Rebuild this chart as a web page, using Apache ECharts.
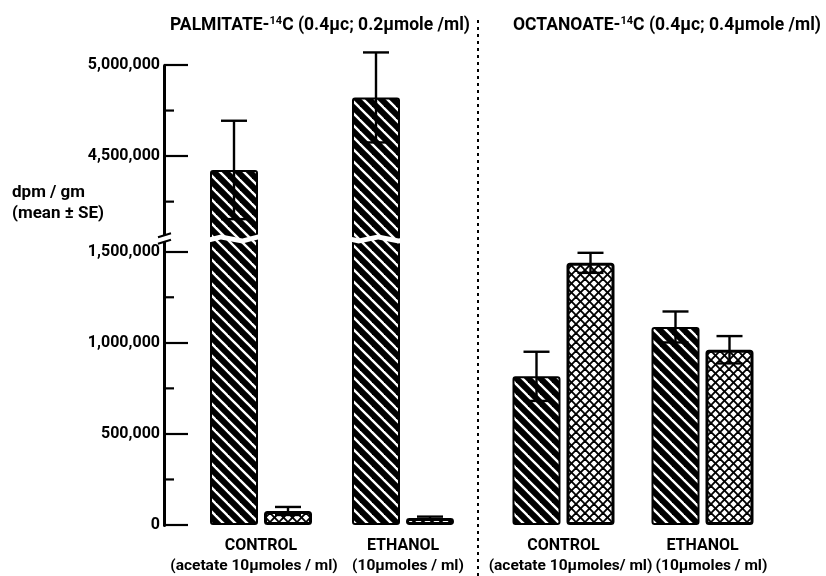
<!DOCTYPE html>
<html>
<head>
<meta charset="utf-8">
<script src="https://cdn.jsdelivr.net/npm/echarts@6.0.0/dist/echarts.min.js"></script>
<style>html,body{margin:0;padding:0;background:#fff}#c{width:826px;height:576px}</style>
</head>
<body>
<div id="c"></div>
<script>
// ---- data ----
var categories = ['CONTROL', 'ETHANOL'];
var subLabelsLeft = ['(acetate 10\u03bcmoles / ml)', '(10\u03bcmoles / ml)'];
var subLabelsRight = ['(acetate 10\u03bcmoles/ ml)', '(10\u03bcmoles / ml)'];
var palmHatched = [4424000, 4822000];
var palmHatchedSE = [270000, 247000];
var palmCross = [77000, 38000];
var palmCrossSE = [22000, 8000];
var octHatched = [816000, 1087000];
var octHatchedSE = [135000, 85000];
var octCross = [1439000, 962000];
var octCrossSE = [55000, 75000];
var yTicks = [0, 500000, 1000000, 1500000, 4500000, 5000000];
var yMinorTicks = [250000, 750000, 1250000, 4250000, 4750000];
var yMin = 0, yMax = 5000000, yInterval = 500000;
var breakStart = 1560000, breakEnd = 4060000;

// ---- patterns ----
function hatchPattern() {
  var c = document.createElement('canvas'); c.width = 12; c.height = 12;
  var g = c.getContext('2d');
  g.fillStyle = '#000'; g.fillRect(0, 0, 12, 12);
  g.strokeStyle = '#fff'; g.lineWidth = 2.4;
  [-12, 0, 12].forEach(function (o) {
    g.beginPath(); g.moveTo(o - 2, -2); g.lineTo(o + 14, 14); g.stroke();
  });
  return { image: c, repeat: 'repeat' };
}
function crossPattern() {
  var c = document.createElement('canvas'); c.width = 9; c.height = 9;
  var g = c.getContext('2d');
  g.fillStyle = '#fff'; g.fillRect(0, 0, 9, 9);
  g.strokeStyle = '#000'; g.lineWidth = 1.9;
  [-9, 0, 9].forEach(function (o) {
    g.beginPath(); g.moveTo(o - 2, -2); g.lineTo(o + 11, 11); g.stroke();
    g.beginPath(); g.moveTo(o + 11, -2); g.lineTo(o - 2, 11); g.stroke();
  });
  return { image: c, repeat: 'repeat' };
}
var HATCH = hatchPattern(), CROSS = crossPattern();

var FONT = "Roboto,'Liberation Sans',sans-serif";
var BAR_W = 48, BAR_GAP_PX = 6;

function fmt(v) { return String(v).replace(/\B(?=(\d{3})+(?!\d))/g, ','); }

function errData(vals, ses, side) {
  return vals.map(function (v, i) { return [i, v, ses[i], side]; });
}
function renderErr(params, api) {
  var cat = api.value(0), v = api.value(1), se = api.value(2), side = api.value(3);
  var dx = side * (BAR_W + BAR_GAP_PX) / 2;
  var top = api.coord([cat, v + se]);
  var bot = api.coord([cat, v - se]);
  var x = top[0] + dx, cap = 13;
  var st = { stroke: '#000', lineWidth: 2.4 };
  return {
    type: 'group',
    children: [
      { type: 'line', shape: { x1: x, y1: top[1], x2: x, y2: bot[1] }, style: st },
      { type: 'line', shape: { x1: x - cap, y1: top[1], x2: x + cap, y2: top[1] }, style: st },
      { type: 'line', shape: { x1: x - cap, y1: bot[1], x2: x + cap, y2: bot[1] }, style: st }
    ]
  };
}

// label shifts (px) per panel / category, to keep the long sub-labels apart
function xAxisFor(gridIndex, subs, shifts) {
  var rich = {
    a: { fontFamily: FONT, fontSize: 16, fontWeight: 'bold', color: '#000', lineHeight: 21 }
  };
  shifts.forEach(function (s, i) {
    rich['b' + i] = {
      fontFamily: FONT, fontSize: 15.5, fontWeight: 'bold', color: '#000', lineHeight: 21,
      padding: s < 0 ? [0, -2 * s, 0, 0] : [0, 0, 0, 2 * s]
    };
  });
  return {
    type: 'category', gridIndex: gridIndex, data: categories,
    axisLine: { show: false }, axisTick: { show: false },
    axisLabel: {
      margin: 10, color: '#000', interval: 0,
      formatter: function (val, idx) { return '{a|' + val + '}\n{b' + idx + '|' + subs[idx] + '}'; },
      rich: rich
    }
  };
}
function yAxisFor(gridIndex, show) {
  return {
    type: 'value', gridIndex: gridIndex, min: yMin, max: yMax, interval: yInterval,
    show: show, offset: 26,
    breaks: [{ start: breakStart, end: breakEnd, gap: 25000 }],
    breakArea: {
      show: true,
      itemStyle: { color: '#fff', borderColor: '#fff', borderWidth: 0, opacity: 1 },
      zigzagAmplitude: 2, zigzagMinSpan: 14, zigzagMaxSpan: 24, zigzagZ: 100,
      expandOnClick: false
    },
    splitLine: { show: false },
    axisLine: { show: show, lineStyle: { color: '#000', width: 3 } },
    axisTick: { show: show, inside: true, length: 24, customValues: yTicks, lineStyle: { color: '#000', width: 2.2 } },
    minorTick: { show: false },
    axisLabel: {
      show: show, color: '#000', fontFamily: FONT, fontSize: 16, fontWeight: 'bold', margin: 4,
      customValues: yTicks,
      formatter: function (v) { return fmt(v); }
    }
  };
}
function barSeries(name, xi, yi, data, pattern, bw) {
  return {
    name: name, type: 'bar', xAxisIndex: xi, yAxisIndex: yi, data: data,
    barWidth: BAR_W, barGap: (BAR_GAP_PX / BAR_W * 100) + '%',
    itemStyle: { color: pattern, borderColor: '#000', borderWidth: bw, borderRadius: 2 },
    z: 2
  };
}
function errSeries(name, xi, yi, data) {
  return {
    name: name, type: 'custom', xAxisIndex: xi, yAxisIndex: yi, data: data,
    renderItem: renderErr, z: 5, clip: false,
    encode: { x: 0, y: 1 }
  };
}
// minor ticks on the left axis, drawn through the axis scale
function renderMinor(params, api) {
  var p = api.coord([0, api.value(0)]);
  var axisX = params.coordSys.x - 26;
  return { type: 'line', shape: { x1: axisX, y1: p[1], x2: axisX + 10, y2: p[1] }, style: { stroke: '#000', lineWidth: 2.2 } };
}
// break marks on the axis line
function renderAxisBreak(params, api) {
  var yLow = api.coord([0, api.value(0)])[1];
  var yHigh = api.coord([0, api.value(1)])[1];
  var ax = params.coordSys.x - 26;
  var st = { stroke: '#000', lineWidth: 2 };
  return {
    type: 'group',
    children: [
      { type: 'rect', shape: { x: ax - 3, y: yHigh - 1, width: 6, height: yLow - yHigh + 2 }, style: { fill: '#fff' } },
      { type: 'line', shape: { x1: ax - 6, y1: yHigh + 1, x2: ax + 7, y2: yHigh - 3 }, style: st },
      { type: 'line', shape: { x1: ax - 6, y1: yLow + 3, x2: ax + 7, y2: yLow - 1 }, style: st }
    ]
  };
}

var chart = echarts.init(document.getElementById('c'), null, { renderer: 'canvas' });
chart.setOption({
  animation: false,
  backgroundColor: '#fff',
  grid: [
    { left: 190, width: 284, top: 65, bottom: 51 },
    { left: 494, width: 278, top: 65, bottom: 51 }
  ],
  xAxis: [xAxisFor(0, subLabelsLeft, [-7, 5]), xAxisFor(1, subLabelsRight, [7, 9])],
  yAxis: [yAxisFor(0, true), yAxisFor(1, false)],
  title: [
    {
      text: 'PALMITATE-{s|14}C (0.4\u03bcc; 0.2\u03bcmole /ml)', left: 165, top: 11,
      textStyle: { fontFamily: FONT, fontSize: 17.5, fontWeight: 'bold', color: '#000',
        rich: { s: { fontFamily: FONT, fontSize: 11, fontWeight: 'bold', verticalAlign: 'top', padding: [0, 0, 8, 0] } } }
    },
    {
      text: 'OCTANOATE-{s|14}C (0.4\u03bcc; 0.4\u03bcmole /ml)', left: 508, top: 11,
      textStyle: { fontFamily: FONT, fontSize: 17.5, fontWeight: 'bold', color: '#000',
        rich: { s: { fontFamily: FONT, fontSize: 11, fontWeight: 'bold', verticalAlign: 'top', padding: [0, 0, 8, 0] } } }
    }
  ],
  graphic: [
    { type: 'text', left: 12, top: 182, style: { text: 'dpm / gm\n(mean \u00b1 SE)', fontFamily: FONT, fontSize: 17, fontWeight: 'bold', fill: '#000', lineHeight: 21 } },
    { type: 'line', shape: { x1: 478, y1: 20, x2: 478, y2: 576 }, style: { stroke: '#000', lineWidth: 2, lineDash: [3, 4] } }
  ],
  series: [
    barSeries('Palmitate hatched', 0, 0, palmHatched, HATCH, 2),
    barSeries('Palmitate cross', 0, 0, palmCross, CROSS, 3),
    errSeries('Palmitate hatched SE', 0, 0, errData(palmHatched, palmHatchedSE, -1)),
    errSeries('Palmitate cross SE', 0, 0, errData(palmCross, palmCrossSE, 1)),
    barSeries('Octanoate hatched', 1, 1, octHatched, HATCH, 2),
    barSeries('Octanoate cross', 1, 1, octCross, CROSS, 3),
    errSeries('Octanoate hatched SE', 1, 1, errData(octHatched, octHatchedSE, -1)),
    errSeries('Octanoate cross SE', 1, 1, errData(octCross, octCrossSE, 1)),
    {
      name: 'minor ticks', type: 'custom', xAxisIndex: 0, yAxisIndex: 0, clip: false, z: 6,
      data: yMinorTicks.map(function (v) { return [v]; }),
      encode: { y: 0 }, renderItem: renderMinor, silent: true
    },
    {
      name: 'axis break', type: 'custom', xAxisIndex: 0, yAxisIndex: 0, clip: false, z: 7,
      data: [[breakStart, breakEnd]],
      encode: { y: [0, 1] }, renderItem: renderAxisBreak, silent: true
    }
  ]
});
</script>
</body>
</html>
